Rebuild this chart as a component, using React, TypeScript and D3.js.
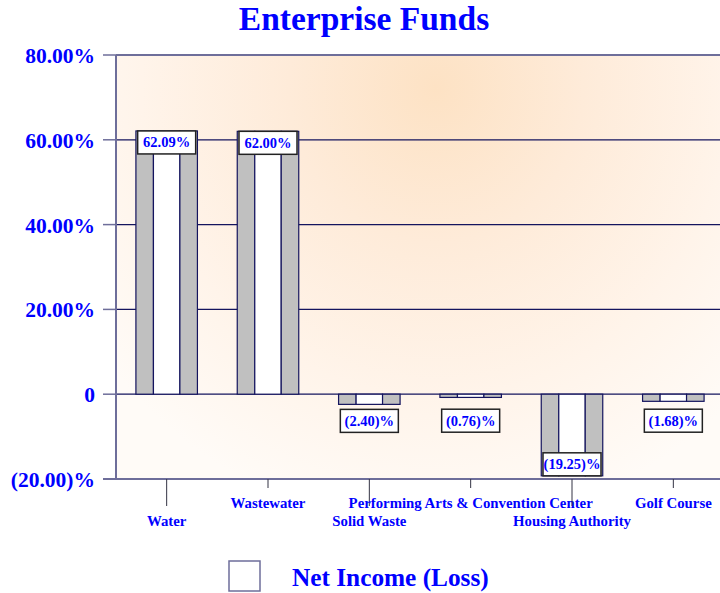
import React from "react";
import * as d3 from "d3";

const categories = ["Water", "Wastewater", "Solid Waste", "Performing Arts & Convention Center", "Housing Authority", "Golf Course"];
const values = [62.09, 62.0, -2.4, -0.76, -19.25, -1.68];
const valueLabels = ["62.09%", "62.00%", "(2.40)%", "(0.76)%", "(19.25)%", "(1.68)%"];
const yTicks = [80, 60, 40, 20, 0, -20];
const yTickLabels = ["80.00%", "60.00%", "40.00%", "20.00%", "0", "(20.00)%"];
const title = "Enterprise Funds";
const legendLabel = "Net Income (Loss)";

const W = 720;
const H = 593;
const left = 116;
const right = 724;
const top = 55;
const bottom = 479;
const BLUE = "#0000ff";
const NAVY = "#14145e";
const AXIS = "#6e6e9a";
const FONT = "'Liberation Serif', 'Times New Roman', serif";

export default function App() {
  const y = d3.scaleLinear().domain([-20, 80]).range([bottom, top]);
  const x = d3.scaleBand<string>().domain(categories).range([left, right]).padding(0);
  const step = x.step();
  const barW = step * 0.607;
  const y0 = y(0);

  return (
    <svg width={W} height={H} style={{ position: "absolute", left: 0, top: 0 }} fontFamily={FONT}>
      <defs>
        <radialGradient id="bg" gradientUnits="userSpaceOnUse" cx={436} cy={88} r={420}
          gradientTransform="translate(436,88) scale(1,1.05) translate(-436,-88)">
          <stop offset="0" stopColor="#fde2c4" />
          <stop offset="0.35" stopColor="#feebd9" />
          <stop offset="0.7" stopColor="#fff4ea" />
          <stop offset="1" stopColor="#fffbf7" />
        </radialGradient>
        <clipPath id="plotclip">
          <rect x={left} y={top} width={right - left} height={bottom - top} />
        </clipPath>
      </defs>
      <rect x={0} y={0} width={W} height={H} fill="#ffffff" />
      <text x={364} y={30} textAnchor="middle" fontSize={33.5} fontWeight="bold" fill={BLUE}>{title}</text>

      <rect x={left} y={top} width={right - left} height={bottom - top} fill="url(#bg)" />

      {yTicks.map((t) => (
        <line key={"g" + t} x1={left} x2={right} y1={y(t)} y2={y(t)}
          stroke={t === 80 || t === -20 ? AXIS : NAVY} strokeWidth={t === 80 || t === -20 ? 2 : 1.3} />
      ))}
      {yTicks.map((t) => (
        <line key={"t" + t} x1={103} x2={left} y1={y(t)} y2={y(t)} stroke={AXIS} strokeWidth={1.5} />
      ))}
      <line x1={left} x2={left} y1={top} y2={bottom} stroke={AXIS} strokeWidth={2} />
      <line x1={103} x2={right} y1={bottom} y2={bottom} stroke={AXIS} strokeWidth={2} />

      {yTicks.map((t, i) => (
        <text key={"yl" + t} x={95} y={y(t) + 8} textAnchor="end" fontSize={21.5} fontWeight="bold" fill={BLUE}>
          {yTickLabels[i]}
        </text>
      ))}

      {categories.map((c, i) => {
        const cx = (x(c) as number) + step / 2;
        const long = i % 2 === 0;
        return (
          <g key={"xl" + c}>
            <line x1={cx} x2={cx} y1={bottom} y2={long ? 506 : 488} stroke="#333344" strokeWidth={1} />
            <text x={cx} y={long ? 526 : 508} textAnchor="middle" fontSize={14.8} fontWeight="bold" fill={BLUE}>{c}</text>
          </g>
        );
      })}

      <g clipPath="url(#plotclip)">
        {categories.map((c, i) => {
          const v = values[i];
          const x0 = (x(c) as number) + (step - barW) / 2;
          const yTop = Math.min(y(v), y0);
          const h = Math.abs(y(v) - y0);
          const g1 = barW * 0.285;
          const wm = barW * 0.43;
          return (
            <g key={"b" + c}>
              <rect x={x0} y={yTop} width={g1} height={h} fill="#c0c0c0" stroke={NAVY} strokeWidth={1.2} />
              <rect x={x0 + g1} y={yTop} width={wm} height={h} fill="#ffffff" stroke={NAVY} strokeWidth={1.2} />
              <rect x={x0 + g1 + wm} y={yTop} width={barW - g1 - wm} height={h} fill="#c0c0c0" stroke={NAVY} strokeWidth={1.2} />
            </g>
          );
        })}
      </g>

      {categories.map((c, i) => {
        const v = values[i];
        const cx = (x(c) as number) + step / 2;
        const bw = 58;
        const bh = 23;
        let by: number;
        if (v >= 0) {
          by = y(v);
        } else {
          by = Math.max(y(v) + 5, y0 + 15);
          if (by + bh > bottom - 2) by = y(v) - bh;
        }
        return (
          <g key={"vl" + c}>
            <rect x={cx - bw / 2} y={by} width={bw} height={bh} fill="#ffffff" stroke="#222222" strokeWidth={1.5} />
            <text x={cx} y={by + bh / 2 + 5} textAnchor="middle" fontSize={14.5} fontWeight="bold" fill={BLUE}>{valueLabels[i]}</text>
          </g>
        );
      })}

      <rect x={229} y={561} width={31} height={30} fill="#ffffff" stroke={AXIS} strokeWidth={1.5} />
      <text x={292} y={586} fontSize={25.3} fontWeight="bold" fill={BLUE}>{legendLabel}</text>
    </svg>
  );
}
